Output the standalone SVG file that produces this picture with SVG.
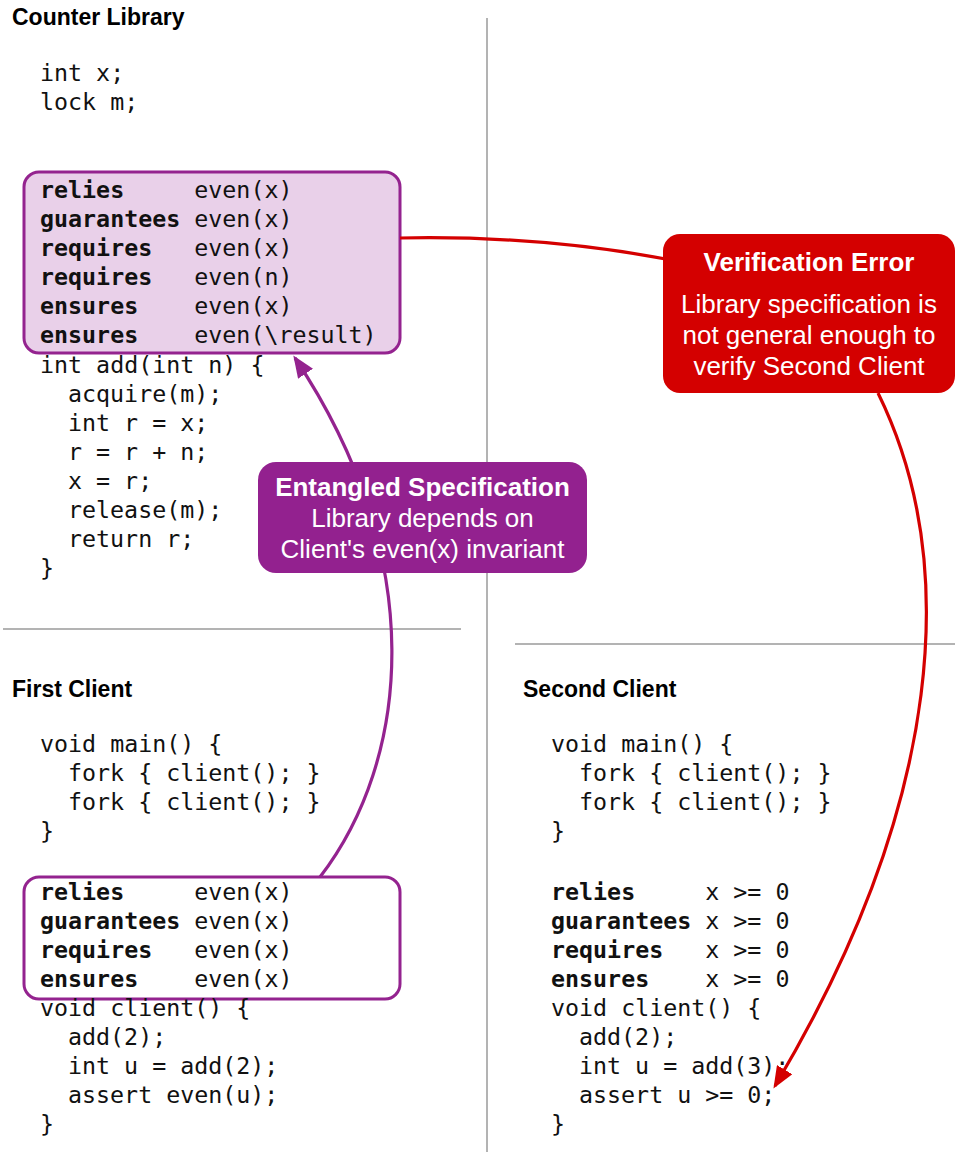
<svg xmlns="http://www.w3.org/2000/svg" width="959" height="1158" viewBox="0 0 959 1158">
<style>
.bg{fill:#ffffff}
.div{stroke:#9a9a9a;stroke-width:1.5;fill:none}
.title{font-family:"Liberation Sans",Arial,sans-serif;font-weight:bold;font-size:23px;fill:#000}
.code{font-family:"DejaVu Sans Mono",monospace;font-size:23.3px;fill:#111;white-space:pre}
.kw{font-weight:bold}
.spec-filled{fill:#e9d0e9;stroke:#94238f;stroke-width:3}
.spec-open{fill:none;stroke:#94238f;stroke-width:3}
.conn-red{fill:none;stroke:#d40000;stroke-width:3.2}
.conn-purple{fill:none;stroke:#94238f;stroke-width:3.2}
.co-red{fill:#d40000}
.co-purple{fill:#93218f}
.co-h{font-family:"Liberation Sans",Arial,sans-serif;font-weight:bold;font-size:26px;fill:#fff;text-anchor:middle}
.co-t{font-family:"Liberation Sans",Arial,sans-serif;font-size:26px;fill:#fff;text-anchor:middle}
</style>
<defs>
<marker id="arrow-red" viewBox="0 0 22 18" refX="19" refY="9" markerWidth="22" markerHeight="18" markerUnits="userSpaceOnUse" orient="auto">
<path d="M0,0 L22,9 L0,18 z" fill="#d40000"/>
</marker>
<marker id="arrow-purple" viewBox="0 0 22 18" refX="19" refY="9" markerWidth="22" markerHeight="18" markerUnits="userSpaceOnUse" orient="auto">
<path d="M0,0 L22,9 L0,18 z" fill="#94238f"/>
</marker>
</defs>
<rect class="bg" x="0" y="0" width="959" height="1158"/>

<g id="dividers">
<line class="div" x1="487" y1="18" x2="487" y2="1152"/>
<line class="div" x1="3" y1="629" x2="461" y2="629"/>
<line class="div" x1="515" y1="644" x2="955" y2="644"/>
</g>

<g id="counter-library">
<text class="title" x="12" y="25">Counter Library</text>
<rect id="library-spec" class="spec-filled" x="24" y="172" width="376" height="181" rx="15"/>
<text class="code" x="40" y="81">int x;</text>
<text class="code" x="40" y="110">lock m;</text>
<text class="code" y="198"><tspan class="kw" x="40">relies</tspan><tspan x="194.3">even(x)</tspan></text>
<text class="code" y="227"><tspan class="kw" x="40">guarantees</tspan><tspan x="194.3">even(x)</tspan></text>
<text class="code" y="256"><tspan class="kw" x="40">requires</tspan><tspan x="194.3">even(x)</tspan></text>
<text class="code" y="285"><tspan class="kw" x="40">requires</tspan><tspan x="194.3">even(n)</tspan></text>
<text class="code" y="314"><tspan class="kw" x="40">ensures</tspan><tspan x="194.3">even(x)</tspan></text>
<text class="code" y="343"><tspan class="kw" x="40">ensures</tspan><tspan x="194.3">even(\result)</tspan></text>
<text class="code" x="40" y="373">int add(int n) {</text>
<text class="code" x="68" y="402">acquire(m);</text>
<text class="code" x="68" y="431">int r = x;</text>
<text class="code" x="68" y="460">r = r + n;</text>
<text class="code" x="68" y="489">x = r;</text>
<text class="code" x="68" y="518">release(m);</text>
<text class="code" x="68" y="547">return r;</text>
<text class="code" x="40" y="576">}</text>
</g>

<g id="first-client">
<text class="title" x="12" y="697">First Client</text>
<rect id="first-client-spec" class="spec-open" x="24" y="877" width="376" height="122" rx="15"/>
<text class="code" x="40" y="752">void main() {</text>
<text class="code" x="68" y="781">fork { client(); }</text>
<text class="code" x="68" y="810">fork { client(); }</text>
<text class="code" x="40" y="839">}</text>
<text class="code" y="900"><tspan class="kw" x="40">relies</tspan><tspan x="194.3">even(x)</tspan></text>
<text class="code" y="929"><tspan class="kw" x="40">guarantees</tspan><tspan x="194.3">even(x)</tspan></text>
<text class="code" y="958"><tspan class="kw" x="40">requires</tspan><tspan x="194.3">even(x)</tspan></text>
<text class="code" y="987"><tspan class="kw" x="40">ensures</tspan><tspan x="194.3">even(x)</tspan></text>
<text class="code" x="40" y="1016">void client() {</text>
<text class="code" x="68" y="1045">add(2);</text>
<text class="code" x="68" y="1074">int u = add(2);</text>
<text class="code" x="68" y="1103">assert even(u);</text>
<text class="code" x="40" y="1132">}</text>
</g>

<g id="second-client">
<text class="title" x="523" y="697">Second Client</text>
<text class="code" x="551" y="752">void main() {</text>
<text class="code" x="579" y="781">fork { client(); }</text>
<text class="code" x="579" y="810">fork { client(); }</text>
<text class="code" x="551" y="839">}</text>
<text class="code" y="900"><tspan class="kw" x="551">relies</tspan><tspan x="705.3">x &gt;= 0</tspan></text>
<text class="code" y="929"><tspan class="kw" x="551">guarantees</tspan><tspan x="705.3">x &gt;= 0</tspan></text>
<text class="code" y="958"><tspan class="kw" x="551">requires</tspan><tspan x="705.3">x &gt;= 0</tspan></text>
<text class="code" y="987"><tspan class="kw" x="551">ensures</tspan><tspan x="705.3">x &gt;= 0</tspan></text>
<text class="code" x="551" y="1016">void client() {</text>
<text class="code" x="579" y="1045">add(2);</text>
<text class="code" x="579" y="1074">int u = add(3);</text>
<text class="code" x="579" y="1103">assert u &gt;= 0;</text>
<text class="code" x="551" y="1132">}</text>
</g>

<g id="connectors">
<path class="conn-red" d="M400,238 C500,236 600,244 700,266"/>
<path class="conn-red" d="M878,393 C960,560 945,800 775,1086" marker-end="url(#arrow-red)"/>
<path class="conn-purple" d="M320,877 C410,760 430,560 295,358" marker-end="url(#arrow-purple)"/>
</g>

<g id="callout-verification-error">
<rect class="co-red" x="663" y="234" width="292" height="159" rx="17"/>
<text class="co-h" x="809" y="271">Verification Error</text>
<text class="co-t" x="809" y="313">Library specification is</text>
<text class="co-t" x="809" y="344">not general enough to</text>
<text class="co-t" x="809" y="375">verify Second Client</text>
</g>

<g id="callout-entangled-specification">
<rect class="co-purple" x="258" y="462" width="329" height="111" rx="18"/>
<text class="co-h" x="422.5" y="496">Entangled Specification</text>
<text class="co-t" x="422.5" y="527">Library depends on</text>
<text class="co-t" x="422.5" y="558">Client's even(x) invariant</text>
</g>
</svg>
